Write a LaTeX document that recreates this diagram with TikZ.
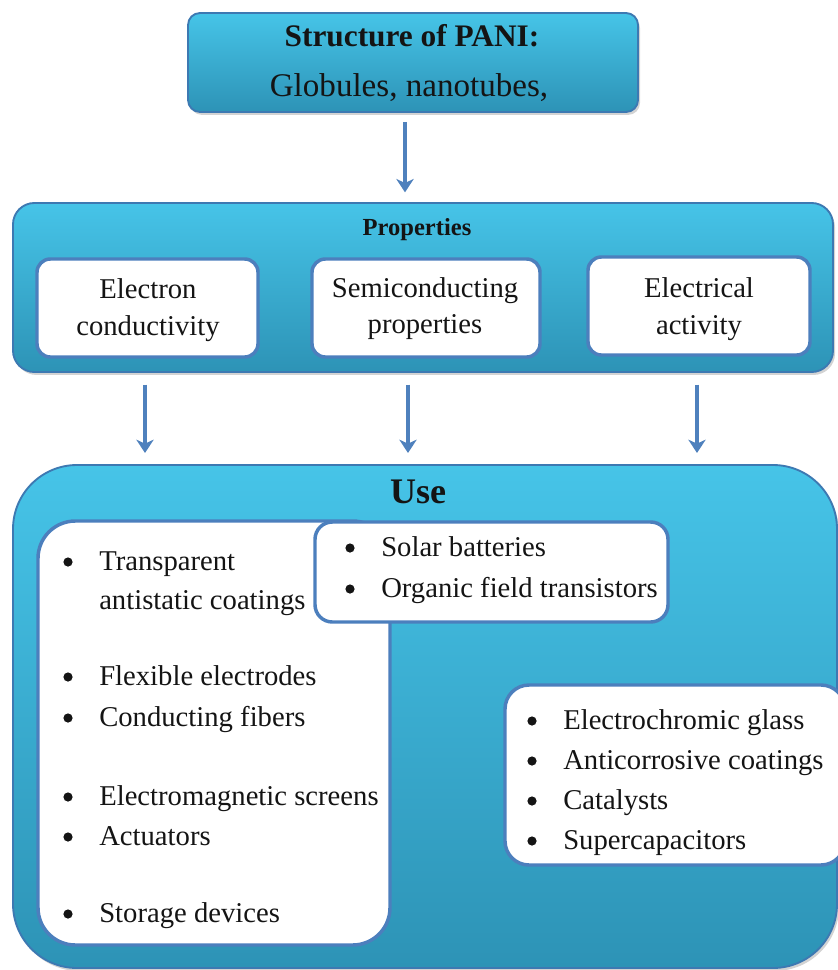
\documentclass[tikz,border=0pt]{standalone}
\usepackage{fontspec}
\setmainfont{Liberation Serif}
\usetikzlibrary{arrows.meta,shadows,fit}
\definecolor{cyT}{HTML}{46C4E8}
\definecolor{cyB}{HTML}{2D93B6}
\definecolor{bord}{HTML}{3D79B2}
\definecolor{ibord}{HTML}{4C7FBD}
\definecolor{arrc}{HTML}{4F81BD}
\definecolor{txt}{HTML}{141414}
\begin{document}
\begin{tikzpicture}[x=0.75pt,y=-0.75pt,
  cybox/.style={inner sep=0pt, outer sep=0pt, draw=bord, line width=1.4pt,
    top color=cyT, bottom color=cyB,
    drop shadow={opacity=0.35, shadow xshift=1.5pt, shadow yshift=-2.2pt}},
  wbox/.style={inner sep=0pt, outer sep=0pt, draw=ibord, line width=2.6pt, fill=white},
  arr/.style={draw=arrc, line width=3.5pt, -{Stealth[length=10pt,width=13pt,inset=3pt]}},
  lbl/.style={anchor=base, inner sep=0pt, text=txt, font=\fontsize{21.5}{26}\selectfont},
  lst/.style={anchor=base west, inner sep=0pt, text=txt, font=\fontsize{21.5}{26}\selectfont},
  bul/.style={fill=txt}]
\useasboundingbox (0,0) rectangle (838,970);

% top box
\node[cybox, rounded corners=9pt, fit={(188,13) (638,112)}] (top) {};
\node[lbl, font=\bfseries\fontsize{23.5}{28}\selectfont] (t1) at (412,47) {Structure of PANI:};
\node[lbl, font=\fontsize{24.8}{30}\selectfont] (t2) at (409,97) {Globules, nanotubes,};

% properties box
\node[cybox, rounded corners=16pt, fit={(13,203) (833,372)}] (props) {};
\node[lbl, font=\bfseries\fontsize{18.4}{22}\selectfont] (pt) at (417,235) {Properties};
\node[wbox, rounded corners=10pt, fit={(37,259) (258,357)}] (p1) {};
\node[wbox, rounded corners=10pt, fit={(312,259) (540,357)}] (p2) {};
\node[wbox, rounded corners=10pt, fit={(588,257) (810,355)}] (p3) {};
\node[lbl] (p1a) at (148,298) {Electron};
\node[lbl] (p1b) at (148,335) {conductivity};
\node[lbl] (p2a) at (425,297) {Semiconducting};
\node[lbl] (p2b) at (425,333) {properties};
\node[lbl] (p3a) at (699,297) {Electrical};
\node[lbl] (p3b) at (699,334) {activity};

% use box
\node[cybox, rounded corners=48pt, fit={(13,465) (837,968)}] (use) {};
\node[lbl, font=\bfseries\fontsize{27}{32}\selectfont] (ut) at (418,503) {Use};

\node[wbox, rounded corners=28pt, fit={(38,521) (390,945)}] (ul) {};
\node[wbox, rounded corners=13pt, fit={(315,522) (668,622)}] (us) {};
\node[wbox, rounded corners=18pt, fit={(505,685) (845,865)}] (ur) {};

% left list
\node[lst] (l1) at (99,570) {Transparent};
\node[lst] (l1b) at (99,609) {antistatic coatings};
\node[lst] (l2) at (99,685) {Flexible electrodes};
\node[lst] (l3) at (99,726) {Conducting fibers};
\node[lst] (l4) at (99,805) {Electromagnetic screens};
\node[lst] (l5) at (99,845) {Actuators};
\node[lst] (l6) at (99,922) {Storage devices};
\foreach \b in {570,685,726,805,845,922} \fill[bul] (68,\b-8) circle (4.6);

% solar list
\node[lst] (s1) at (381,556) {Solar batteries};
\node[lst] (s2) at (381,597) {Organic field transistors};
\foreach \b in {556,597} \fill[bul] (350,\b-8) circle (4.6);

% right list
\node[lst] (r1) at (563,729) {Electrochromic glass};
\node[lst] (r2) at (563,769) {Anticorrosive coatings};
\node[lst] (r3) at (563,809) {Catalysts};
\node[lst] (r4) at (563,849) {Supercapacitors};
\foreach \b in {729,769,809,849} \fill[bul] (532,\b-8) circle (4.6);

% arrows
\draw[arr, shorten <=7.5pt, shorten >=8pt] (top.south -| 405,0) -- (props.north -| 405,0);
\draw[arr, shorten <=9.5pt, shorten >=9pt] (props.south -| 145,0) -- (use.north -| 145,0);
\draw[arr, shorten <=9.5pt, shorten >=9pt] (props.south -| 408,0) -- (use.north -| 408,0);
\draw[arr, shorten <=9.5pt, shorten >=9pt] (props.south -| 697,0) -- (use.north -| 697,0);
\end{tikzpicture}
\end{document}
